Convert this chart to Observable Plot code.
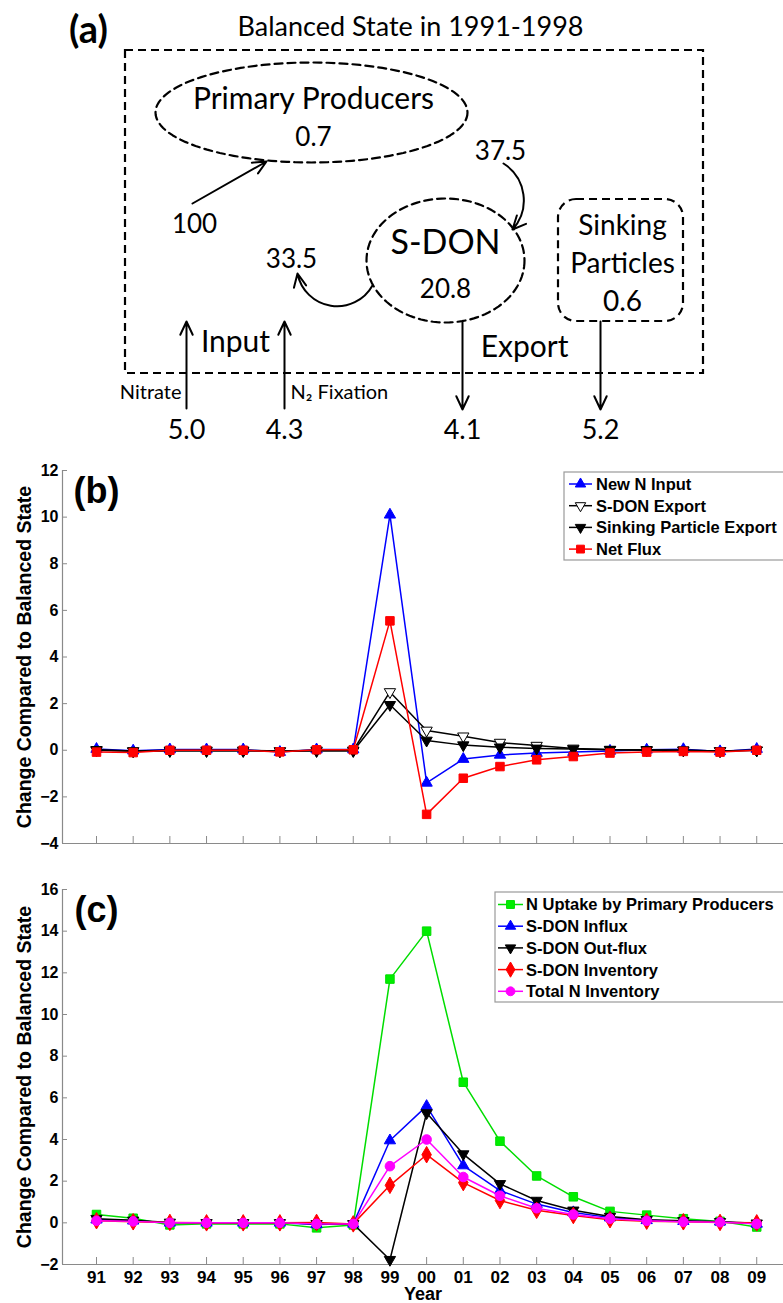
<!DOCTYPE html>
<html><head><meta charset="utf-8">
<script src="https://cdn.jsdelivr.net/npm/d3@7"></script>
<script src="https://cdn.jsdelivr.net/npm/@observablehq/plot@0.6"></script>
<style>
body{margin:0;background:#fff;}
#wrap{width:783px;height:1303px;overflow:hidden;}
#wrap svg{display:block;}
</style></head><body><div id="wrap"></div>
<script>
// ---------------- DATA ----------------
// Panel (a): balanced state box model
const panelATitle = "Balanced State in 1991-1998";
const compartmentNames = ["Primary Producers", "S-DON", "Sinking\nParticles"];
const compartmentInventories = ["0.7", "20.8", "0.6"];
const internalFluxes = ["100", "37.5", "33.5"];
const boundaryGroups = ["Input", "Export"];
const inputSources = ["Nitrate", "N₂ Fixation"];
const boundaryFluxes = ["5.0", "4.3", "4.1", "5.2"];

// Panels (b), (c): years and series
const years = ["91","92","93","94","95","96","97","98","99","00","01","02","03","04","05","06","07","08","09"];
const yTicksB = [-4,-2,0,2,4,6,8,10,12];
const yTicksC = [-2,0,2,4,6,8,10,12,14,16];

const namesB = ["New N Input", "S-DON Export", "Sinking Particle Export", "Net Flux"];
const newNInput     = [0.05,-0.02,0.03,0.03,0.03,-0.08,0.03,0.03,10.1,-1.4,-0.38,-0.2,-0.12,-0.08,-0.03,0.02,0.04,-0.05,0.05];
const sdonExport    = [0.02,-0.03,0.0,0.0,0.0,-0.03,0.0,0.0,2.5,0.85,0.6,0.33,0.2,0.08,0.03,0.02,0.0,-0.03,0.0];
const sinkingExport = [0.0,-0.04,-0.03,-0.03,-0.03,-0.04,-0.03,-0.03,1.95,0.42,0.22,0.13,0.08,0.05,0.02,0.0,0.0,-0.03,0.0];
const netFlux       = [-0.08,-0.1,0.0,0.0,0.0,-0.07,0.02,0.02,5.55,-2.75,-1.2,-0.7,-0.41,-0.27,-0.12,-0.08,-0.05,-0.08,0.0];

const namesC = ["N Uptake by Primary Producers", "S-DON Influx", "S-DON Out-flux", "S-DON Inventory", "Total N Inventory"];
const nUptake       = [0.4,0.22,-0.1,-0.05,-0.05,-0.05,-0.24,-0.1,11.7,14.0,6.75,3.92,2.25,1.25,0.55,0.37,0.2,0.07,-0.2];
const sdonInflux    = [0.15,0.1,0.0,0.0,0.0,0.0,-0.08,-0.05,3.95,5.6,2.75,1.55,0.9,0.5,0.25,0.12,0.08,0.05,-0.05];
const sdonOutflux   = [0.2,0.12,0.02,0.0,0.0,0.0,-0.05,-0.05,-1.77,5.27,3.3,1.87,1.07,0.6,0.3,0.15,0.1,0.05,-0.02];
const sdonInventory = [0.1,0.05,0.02,0.0,0.0,0.0,0.02,-0.05,1.8,3.27,1.93,1.07,0.6,0.35,0.15,0.08,0.05,0.02,0.0];
const totalNInv     = [0.1,0.07,0.0,0.0,0.0,0.0,-0.05,-0.05,2.72,4.0,2.2,1.3,0.7,0.4,0.2,0.1,0.05,0.03,-0.05];

// ---------------- STYLES / LAYOUT ----------------
const sqrt3 = Math.sqrt(3);
const triDown = {draw(ctx, size) {
  const y = -Math.sqrt(size / (sqrt3 * 3));
  ctx.moveTo(0, -y * 2); ctx.lineTo(-sqrt3 * y, y); ctx.lineTo(sqrt3 * y, y); ctx.closePath();
}};
const stylesB = [
  {color:"#0000ff", fill:"#0000ff", symbol:d3.symbolTriangle, r:4.2},
  {color:"#000000", fill:"#ffffff", symbol:triDown, r:4.2},
  {color:"#000000", fill:"#000000", symbol:triDown, r:4.2},
  {color:"#ff0000", fill:"#ff0000", symbol:d3.symbolSquare, r:4.8}
];
const stylesC = [
  {color:"#00dd00", fill:"#00ee00", symbol:d3.symbolSquare, r:4.8},
  {color:"#0000ff", fill:"#0000ff", symbol:d3.symbolTriangle, r:4.2},
  {color:"#000000", fill:"#000000", symbol:triDown, r:4.2},
  {color:"#ff0000", fill:"#ff0000", symbol:d3.symbolDiamond, r:5.0},
  {color:"#ff00ff", fill:"#ff00ff", symbol:d3.symbolCircle, r:4.8}
];

const FONT_A = "Lato, 'Open Sans', sans-serif";
const FONT_C = "'Liberation Sans', Arial, sans-serif";

const wrap = document.getElementById("wrap");

// ---------------- PANEL (a) ----------------
function ellipsePoints(cx, cy, rx, ry) {
  return d3.range(0, 121).map(k => {
    const t = k / 120 * 2 * Math.PI;
    return {x: cx + rx * Math.cos(t), y: cy + ry * Math.sin(t)};
  });
}
const dash = "8,5";
const ellipsesA = [ellipsePoints(311, 112, 156, 50), ellipsePoints(445, 260, 79, 62)];
const straightArrows = [
  {x1:192, y1:203, x2:266, y2:161},
  {x1:186, y1:408, x2:186, y2:321},
  {x1:284, y1:408, x2:284, y2:321},
  {x1:462, y1:322, x2:462, y2:409},
  {x1:600, y1:321, x2:600, y2:409}
];
const arrowStyle = {stroke:"black", strokeWidth:2, headLength:11, headAngle:50};

const panelA = Plot.plot({
  width: 783, height: 450, margin: 0,
  x: {domain:[0,783], range:[0,783], axis:null},
  y: {domain:[0,450], range:[0,450], axis:null},
  style: {fontFamily: FONT_A, background:"white", overflow:"visible"},
  marks: [
    Plot.rect([{x1:125, x2:703, y1:50, y2:373}], {x1:"x1", x2:"x2", y1:"y1", y2:"y2", fill:"none", stroke:"black", strokeWidth:2.2, strokeDasharray:dash}),
    ...ellipsesA.map(pts => Plot.line(pts, {x:"x", y:"y", stroke:"black", strokeWidth:2.2, strokeDasharray:dash})),
    Plot.rect([{x1:558, x2:683, y1:199, y2:321}], {x1:"x1", x2:"x2", y1:"y1", y2:"y2", fill:"none", stroke:"black", strokeWidth:2.2, strokeDasharray:dash, rx:18}),
    Plot.arrow(straightArrows, {x1:"x1", y1:"y1", x2:"x2", y2:"y2", ...arrowStyle}),
    Plot.arrow([{x1:503, y1:163, x2:512, y2:229}], {x1:"x1", y1:"y1", x2:"x2", y2:"y2", bend:50, ...arrowStyle}),
    Plot.arrow([{x1:372, y1:285, x2:297, y2:273}], {x1:"x1", y1:"y1", x2:"x2", y2:"y2", bend:70, ...arrowStyle}),
    Plot.text(["(a)"], {x:88, y:30, text:d=>d, fontSize:38, fontWeight:"bold"}),
    Plot.text([panelATitle], {x:410, y:27, text:d=>d, fontSize:27}),
    Plot.text([compartmentNames[0]], {x:313, y:99, text:d=>d, fontSize:30}),
    Plot.text([compartmentNames[1]], {x:445, y:243, text:d=>d, fontSize:34}),
    Plot.text([compartmentNames[2] + "\n" + compartmentInventories[2]], {x:622, y:260, text:d=>d, fontSize:28, lineHeight:1.36}),
    Plot.text([
      {t: compartmentInventories[0], x:313, y:137},
      {t: compartmentInventories[1], x:445, y:289},
      {t: internalFluxes[0], x:194, y:224},
      {t: internalFluxes[1], x:500, y:151},
      {t: internalFluxes[2], x:291, y:259}
    ], {x:"x", y:"y", text:"t", fontSize:26}),
    Plot.text([
      {t: boundaryGroups[0], x:235, y:342},
      {t: boundaryGroups[1], x:524, y:347}
    ], {x:"x", y:"y", text:"t", fontSize:30}),
    Plot.text([inputSources[0]], {x:181, y:392, text:d=>d, fontSize:20, textAnchor:"end"}),
    Plot.text([inputSources[1]], {x:290, y:392, text:d=>d, fontSize:20, textAnchor:"start"}),
    Plot.text(boundaryFluxes.map((t, i) => ({t, x:[186,284,462,600][i]})), {x:"x", y:() => 430, text:"t", fontSize:27})
  ]
});
wrap.appendChild(panelA);

// ---------------- PANELS (b), (c) ----------------
function legendMark(names, styles, box) {
  return () => {
    const g = d3.create("svg:g").attr("font-family", FONT_C).attr("font-weight", "bold").attr("font-size", 16.5)
      .attr("text-anchor", "start");
    g.append("rect").attr("x", box.x).attr("y", box.y).attr("width", 300).attr("height", box.h)
      .attr("fill", "white").attr("stroke", "#9a9a9a").attr("stroke-width", 1.2);
    names.forEach((name, i) => {
      const s = styles[i];
      const cy = box.y + box.first + i * box.step;
      g.append("line").attr("x1", box.lx1).attr("x2", box.lx2).attr("y1", cy).attr("y2", cy)
        .attr("stroke", s.color).attr("stroke-width", 1.5);
      g.append("path").attr("transform", `translate(${(box.lx1 + box.lx2) / 2},${cy})`)
        .attr("d", d3.symbol(s.symbol, Math.PI * s.r * s.r * 0.85)())
        .attr("fill", s.fill).attr("stroke", s.color).attr("stroke-width", 1);
      g.append("text").attr("x", box.tx).attr("y", cy).attr("dy", "0.36em")
        .attr("text-anchor", "start").attr("fill", "black").text(name);
    });
    return g.node();
  };
}

function chart({seriesValues, names, styles, yDomain, yTicks, height, marginTop, marginBottom, showXLabels, panelLabel, legendBox}) {
  const xDomain = [-0.927, 18.73];
  const marks = [
    Plot.ruleX([xDomain[0]], {stroke:"#8a8a8a", strokeWidth:1.2}),
    Plot.ruleY([yDomain[0]], {stroke:"#8a8a8a", strokeWidth:1.2}),
    Plot.axisY({ticks:yTicks, tickSize:-5, tickPadding:9, stroke:"#8a8a8a", fill:"black", fontSize:16, fontWeight:"bold", label:null}),
    Plot.axisX({ticks:d3.range(years.length), tickSize:-7, tickPadding:13, stroke:"#8a8a8a", fill:"black",
      fontSize:17, fontWeight:"bold", label:null, tickFormat: i => showXLabels ? years[i] : ""}),
    Plot.text(["Change Compared to Balanced State"], {text:d=>d, frameAnchor:"left", rotate:-90, dx:-38,
      textAnchor:"middle", lineAnchor:"middle", fontSize:19.5, fontWeight:"bold"}),
    Plot.text([panelLabel], {text:d=>d, frameAnchor:"top-left", dx:34, dy:21, fontSize:36, fontWeight:"bold",
      textAnchor:"middle", lineAnchor:"middle"})
  ];
  if (showXLabels) marks.push(Plot.text(["Year"], {text:d=>d, frameAnchor:"bottom", dy:30, lineAnchor:"middle", textAnchor:"middle", fontSize:18, fontWeight:"bold"}));
  seriesValues.forEach((vals, si) => {
    const s = styles[si];
    const rows = vals.map((v, i) => ({i, v}));
    marks.push(Plot.line(rows, {x:"i", y:"v", stroke:s.color, strokeWidth:1.5}));
    marks.push(Plot.dot(rows, {x:"i", y:"v", symbol:s.symbol, r:s.r, fill:s.fill, stroke:s.color, strokeWidth:1}));
  });
  marks.push(legendMark(names, styles, legendBox));
  return Plot.plot({
    width:783, height, marginLeft:62, marginRight:0, marginTop, marginBottom,
    x:{domain:xDomain, axis:null},
    y:{domain:yDomain, axis:null},
    style:{fontFamily:FONT_C, background:"white", overflow:"visible"},
    marks
  });
}

wrap.appendChild(chart({
  seriesValues:[newNInput, sdonExport, sinkingExport, netFlux], names:namesB, styles:stylesB,
  yDomain:[-4,12], yTicks:yTicksB, height:410, marginTop:20, marginBottom:17, showXLabels:false, panelLabel:"(b)",
  legendBox:{x:564, y:22, h:88, first:12, step:21.7, lx1:569, lx2:592, tx:596}
}));
wrap.appendChild(chart({
  seriesValues:[nUptake, sdonInflux, sdonOutflux, sdonInventory, totalNInv], names:namesC, styles:stylesC,
  yDomain:[-2,16], yTicks:yTicksC, height:443, marginTop:29, marginBottom:39, showXLabels:true, panelLabel:"(c)",
  legendBox:{x:495, y:32, h:110, first:12.5, step:21.7, lx1:498, lx2:523, tx:526}
}));
</script></body></html>
